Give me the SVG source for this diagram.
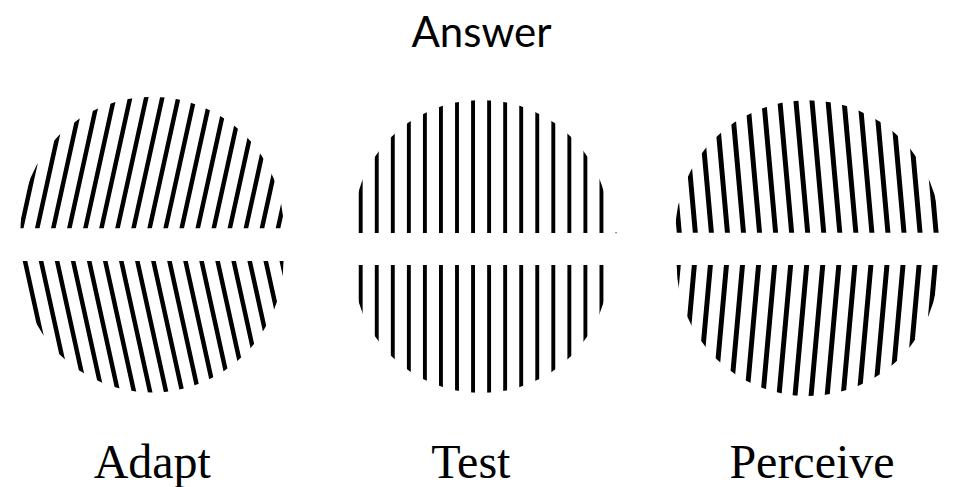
<svg xmlns="http://www.w3.org/2000/svg" xmlns:xlink="http://www.w3.org/1999/xlink" width="954" height="487" viewBox="0 0 954 487">
  <style>
    .bars { stroke: #000; fill: none; }
    .adapt-bars { stroke-width: 4.6; }
    .test-bars { stroke-width: 3.9; }
    .perceive-bars { stroke-width: 5; }
    .title { font-family: Lato, "Open Sans", "Liberation Sans", sans-serif; font-size: 42px; fill: #000; text-anchor: middle; }
    .label { font-family: "Liberation Serif", "Times New Roman", serif; font-size: 48px; fill: #000; text-anchor: middle; }
  </style>
  <defs>
    <!-- 17 vertical bars, 16.05 px apart; skewed per half to tilt the grating -->
    <path id="comb" d="M0 -145V145M16.05 -145V145M32.1 -145V145M48.15 -145V145M64.2 -145V145M80.25 -145V145M96.3 -145V145M112.35 -145V145M128.4 -145V145M144.45 -145V145M160.5 -145V145M176.55 -145V145M192.6 -145V145M208.65 -145V145M224.7 -145V145M240.75 -145V145M256.8 -145V145"/>

    <!-- disc segments: upper and lower halves of each grating -->
    <clipPath id="adapt-top"><path d="M20.5 228.3A131.5 131.5 0 0 1 283.5 228.3Z"/></clipPath>
    <clipPath id="adapt-bottom"><path d="M20.5 261A131.5 131.5 0 1 0 283.5 261Z"/></clipPath>
    <clipPath id="test-top"><path d="M353.3 233A128 128 0 1 1 609.1 233Z"/></clipPath>
    <clipPath id="test-bottom"><path d="M353.2 265A128 128 0 1 0 609.2 265Z"/></clipPath>
    <clipPath id="perceive-top"><path d="M675.3 232.7A132.4 132.4 0 0 1 940.1 232.7Z"/></clipPath>
    <clipPath id="perceive-bottom"><path d="M676.7 265A131 131 0 0 0 938.7 265Z"/></clipPath>
  </defs>

  <rect width="954" height="487" fill="#fff"/>

  <g id="title">
    <text class="title" x="481.5" y="47">Answer</text>
  </g>

  <!-- adaptation grating: upper bars lean right, lower bars lean left -->
  <g id="adapt">
    <g clip-path="url(#adapt-top)">
      <use xlink:href="#comb" class="bars adapt-bars" transform="translate(21.2 228.3) skewX(-12.4)"/>
    </g>
    <g clip-path="url(#adapt-bottom)">
      <use xlink:href="#comb" class="bars adapt-bars" transform="translate(25 261) skewX(12.4)"/>
    </g>
    <text class="label" x="152.3" y="478.3">Adapt</text>
  </g>

  <!-- test grating: vertical bars -->
  <g id="test">
    <g clip-path="url(#test-top)">
      <use xlink:href="#comb" class="bars test-bars" transform="translate(360.7 233)"/>
    </g>
    <g clip-path="url(#test-bottom)">
      <use xlink:href="#comb" class="bars test-bars" transform="translate(360.7 265)"/>
    </g>
    <rect x="615.4" y="232" width="1.3" height="1.3" fill="#555"/>
    <text class="label" x="470.8" y="478.3">Test</text>
  </g>

  <!-- perceived grating: slight tilt opposite to the adapting one -->
  <g id="perceive">
    <g clip-path="url(#perceive-top)">
      <use xlink:href="#comb" class="bars perceive-bars" transform="translate(679.3 232.7) skewX(5.1)"/>
    </g>
    <g clip-path="url(#perceive-bottom)">
      <use xlink:href="#comb" class="bars perceive-bars" transform="translate(678.3 265) skewX(-5.1)"/>
    </g>
    <text class="label" x="812" y="478.3">Perceive</text>
  </g>
</svg>
